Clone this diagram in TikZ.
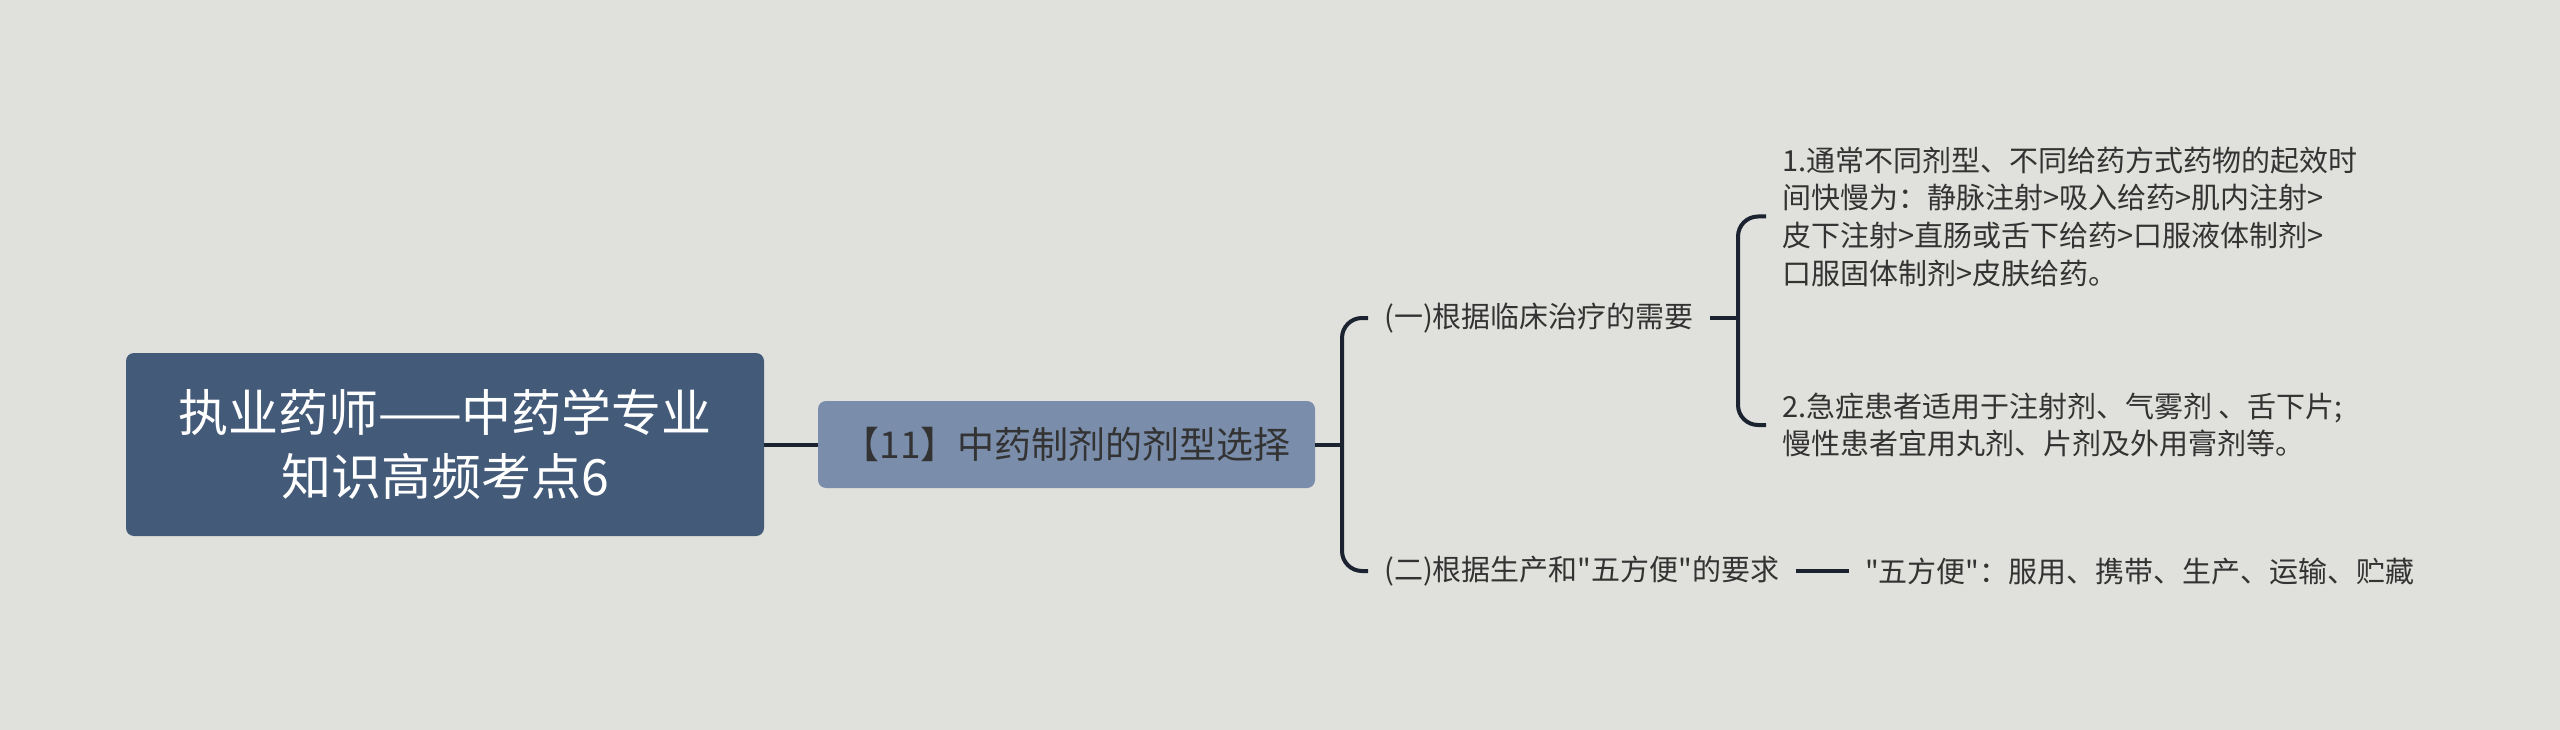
\documentclass[tikz,border=0pt]{standalone}
\usepackage{fontspec}
\usepackage{tikz}
\usetikzlibrary{calc}
\newfontfamily\cjk{Noto Sans CJK SC}
\definecolor{bgc}{HTML}{E0E1DC}
\definecolor{rootc}{HTML}{435B79}
\definecolor{subc}{HTML}{7A8DAA}
\definecolor{linec}{HTML}{1B2230}
\definecolor{txtc}{HTML}{333333}

\begin{document}
\begin{tikzpicture}[
		x=1pt, y=-1pt,
		root/.style={rectangle, rounded corners=8pt, fill=rootc, text=white,
			minimum width=638pt, minimum height=183pt, align=center,
			font={\cjk\fontsize{50}{64}\selectfont}},
		topic/.style={rectangle, rounded corners=8pt, fill=subc, text=txtc,
			minimum width=497pt, minimum height=87pt,
			font={\cjk\fontsize{37}{42}\selectfont}},
		item/.style={anchor=west, inner xsep=16pt, inner ysep=0pt, text=txtc,
			align=left, font={\cjk\fontsize{29}{37.7}\selectfont}},
		link/.style={draw=linec, line width=4pt}]

		\useasboundingbox (0,0) rectangle (2560,730);
		\fill[bgc] (0,0) rectangle (2560,730);

		\node[root] (r) at (445,444.5) {执业药师——中药学专业\\知识高频考点6};
		\node[topic] (s) at (1066.5,444.5) {【11】中药制剂的剂型选择};

		\node[item] (c1) at (1368,318) {(一)根据临床治疗的需要};
		\node[item] (c2) at (1368,571) {(二)根据生产和"五方便"的要求};

		\node[item] (l1) at (1766,216.5) {1.通常不同剂型、不同给药方式药物的起效时\\间快慢为：静脉注射>吸入给药>肌内注射>\\皮下注射>直肠或舌下给药>口服液体制剂>\\口服固体制剂>皮肤给药。};
		\node[item] (l2) at (1766,425) {2.急症患者适用于注射剂、气雾剂 、舌下片;\\慢性患者宜用丸剂、片剂及外用膏剂等。};
		\node[item] (l3) at (1849,571) {"五方便"：服用、携带、生产、运输、贮藏};

		\coordinate (b1) at (1342,444.5);
		\coordinate (b2) at (1738,318);

		\draw[link] (r) -- (s);
		\draw[link] (s.east) -- (b1);
		\draw[link, rounded corners=20pt] (c1.west) -| (b1) |- (c2.west);
		\draw[link] (c1.east) -- (b2);
		\draw[link, rounded corners=20pt] (l1.west) -| (b2) |- (l2.west);
		\draw[link] (c2.east) -- (l3.west);

\end{tikzpicture}
\end{document}
